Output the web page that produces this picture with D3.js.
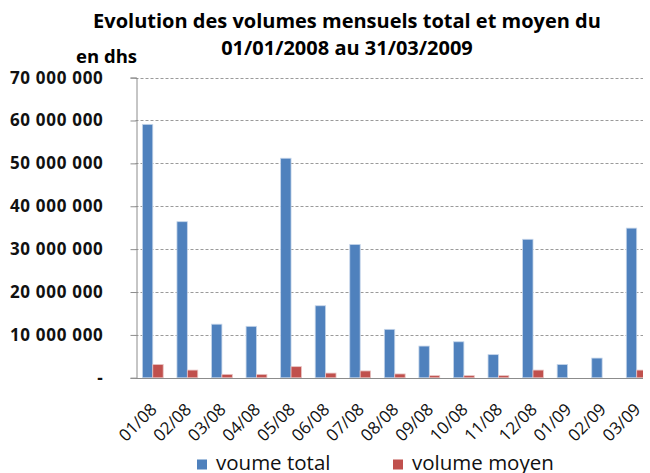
<!DOCTYPE html>
<html>
<head>
<meta charset="utf-8">
<script src="https://cdn.jsdelivr.net/npm/d3@7"></script>
<style>
  body { margin: 0; background: #fff; }
  svg { display: block; font-family: "Open Sans", Lato, sans-serif; }
</style>
</head>
<body>
<div id="chart"></div>
<script>
// months on the x axis
var months = ["01/08", "02/08", "03/08", "04/08", "05/08", "06/08", "07/08", "08/08",
              "09/08", "10/08", "11/08", "12/08", "01/09", "02/09", "03/09"];
// values in dhs
var volumeTotal = [59100000, 36400000, 12500000, 12000000, 51200000, 16800000, 31100000, 11300000,
                   7400000, 8400000, 5400000, 32300000, 3100000, 4600000, 34900000];
var volumeMoyen = [3100000, 1800000, 800000, 800000, 2600000, 1100000, 1600000, 900000,
                   500000, 500000, 500000, 1800000, 0, 0, 1800000];
var seriesNames = ["voume total", "volume moyen"];
var yTicks = [0, 10000000, 20000000, 30000000, 40000000, 50000000, 60000000, 70000000];

var W = 650, H = 473;
var colors = ["#4f81bd", "#c0504d"];

var svg = d3.select("#chart").append("svg").attr("width", W).attr("height", H);

var plotLeft = 135.5, plotRight = 654, clipRight = 643, plotTop = 77.6, plotBottom = 377.8;

var y = d3.scaleLinear().domain([0, 70000000]).range([plotBottom, plotTop]);
var x0 = d3.scaleBand().domain(months).range([plotLeft, plotRight]).padding(0);
var x1 = d3.scaleBand().domain([0, 1]).range([0, x0.bandwidth()]).paddingInner(0).paddingOuter(0.66);

svg.append("clipPath").attr("id", "plotclip")
  .append("rect").attr("x", plotLeft).attr("y", 0).attr("width", clipRight - plotLeft).attr("height", H);

// title
var title = svg.append("text").attr("text-anchor", "middle").attr("font-weight", "bold")
  .attr("font-size", 20).attr("fill", "#000");
title.append("tspan").attr("x", 347).attr("y", 28).text("Evolution des volumes mensuels total et moyen du");
title.append("tspan").attr("x", 347).attr("y", 55).text("01/01/2008 au 31/03/2009");

svg.append("text").attr("x", 137).attr("y", 63).attr("text-anchor", "end")
  .attr("font-weight", "bold").attr("font-size", 18.5).text("en dhs");

// gridlines
svg.append("g").selectAll("line").data(yTicks.slice(1)).join("line")
  .attr("x1", plotLeft).attr("x2", clipRight)
  .attr("y1", function(d) { return Math.round(y(d)) + 0.5; })
  .attr("y2", function(d) { return Math.round(y(d)) + 0.5; })
  .attr("stroke", "#9a9a9a").attr("stroke-dasharray", "3,2");

// y axis
var yAxis = svg.append("g").attr("transform", "translate(" + (Math.round(plotLeft) + 0.5) + ",0)")
  .call(d3.axisLeft(y).tickValues(yTicks).tickSize(6).tickPadding(27)
    .tickFormat(function(d) { return d === 0 ? "-" : d3.format(",")(d).replace(/,/g, " "); }));
yAxis.select(".domain").attr("stroke", "#8c8c8c");
yAxis.selectAll(".tick line").attr("stroke", "#8c8c8c");
yAxis.selectAll(".tick text").attr("font-size", 17).attr("font-weight", "bold").attr("fill", "#111")
  .attr("letter-spacing", 0.7)
  .attr("font-family", "\"Open Sans\", sans-serif");

// bars
var groups = svg.append("g").attr("clip-path", "url(#plotclip)")
  .selectAll("g").data(months).join("g")
  .attr("transform", function(d) { return "translate(" + x0(d) + ",0)"; });

groups.selectAll("rect").data(function(d, i) { return [volumeTotal[i], volumeMoyen[i]]; }).join("rect")
  .attr("x", function(d, j) { return x1(j); })
  .attr("width", x1.bandwidth())
  .attr("y", function(d) { return y(d); })
  .attr("height", function(d) { return plotBottom - y(d); })
  .attr("fill", function(d, j) { return colors[j]; })
  .attr("stroke", function(d, j) { return j === 0 ? "#c6d6ea" : "#e8c4c3"; })
  .attr("stroke-width", function(d) { return d > 0 ? 0.8 : 0; });

// x axis
var xAxis = svg.append("g").attr("transform", "translate(0," + (Math.round(plotBottom) + 0.5) + ")")
  .call(d3.axisBottom(x0).tickSize(0).tickPadding(0));
xAxis.select(".domain").attr("d", "M" + plotLeft + ",0H" + clipRight).attr("stroke", "#8c8c8c");
xAxis.selectAll(".tick text")
  .attr("font-size", 17).attr("fill", "#111")
  .attr("font-family", "\"Open Sans\", sans-serif")
  .attr("text-anchor", "end")
  .attr("dy", 0)
  .attr("transform", "translate(5,32) rotate(-45)");

// legend
var legend = svg.append("g");
var legX = [197, 393];
seriesNames.forEach(function(name, i) {
  legend.append("rect").attr("x", legX[i]).attr("y", 459.5).attr("width", 10).attr("height", 10)
    .attr("fill", colors[i]);
  legend.append("text").attr("x", legX[i] + 19).attr("y", 469.5).attr("font-size", 20.5)
    .attr("fill", "#111").text(name);
});
</script>
</body>
</html>
